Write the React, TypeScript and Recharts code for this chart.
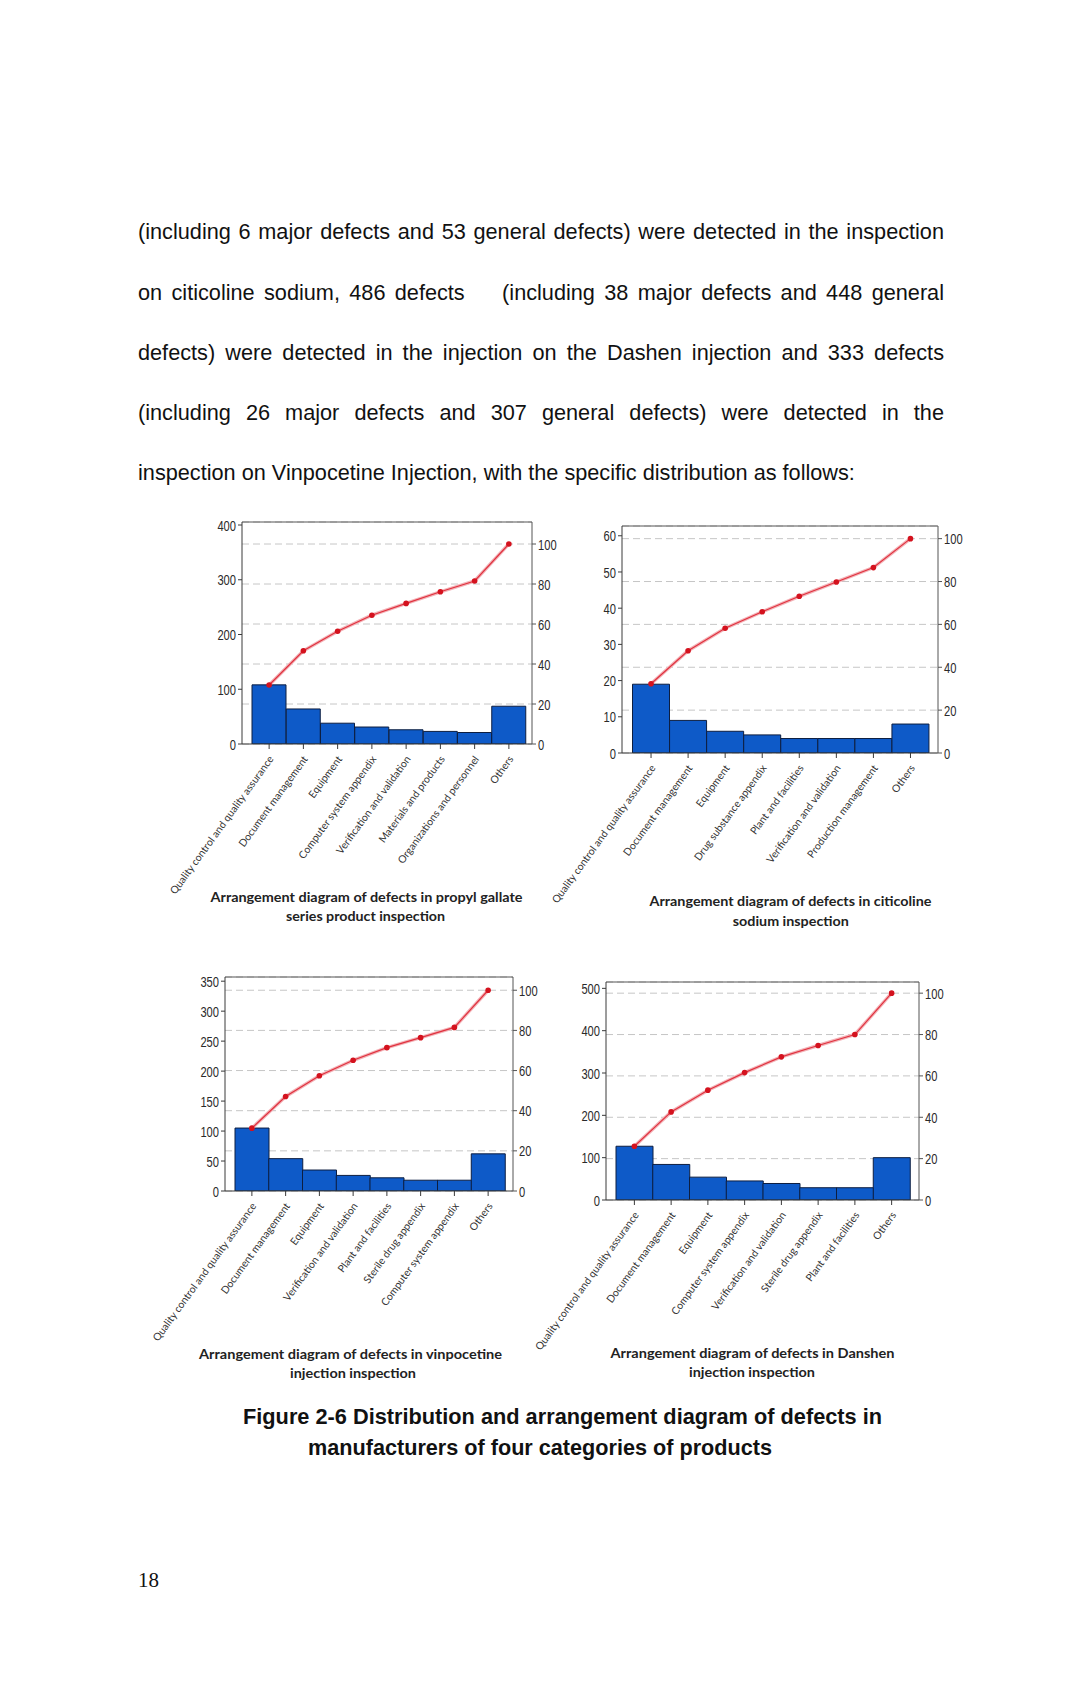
import { ComposedChart, Bar, Line, XAxis, YAxis, CartesianGrid, ReferenceLine } from 'recharts'

// --- data ---
const gallateCats = ['Quality control and quality assurance', 'Document management', 'Equipment', 'Computer system appendix', 'Verification and validation', 'Materials and products', 'Organizations and personnel', 'Others']
const gallateCounts = [108, 64, 38, 31, 26, 23, 21, 69]
const gallateCum = [29.5, 46.6, 56.4, 64.4, 70.3, 76.1, 81.5, 100]
const gallateTicks = [0, 100, 200, 300, 400]

const citicolineCats = ['Quality control and quality assurance', 'Document management', 'Equipment', 'Drug substance appendix', 'Plant and facilities', 'Verification and validation', 'Production management', 'Others']
const citicolineCounts = [19, 9, 6, 5, 4, 4, 4, 8]
const citicolineCum = [32.3, 47.7, 58.2, 65.9, 73.1, 79.8, 86.5, 100]
const citicolineTicks = [0, 10, 20, 30, 40, 50, 60]

const vinpoCats = ['Quality control and quality assurance', 'Document management', 'Equipment', 'Verification and validation', 'Plant and facilities', 'Sterile drug appendix', 'Computer system appendix', 'Others']
const vinpoCounts = [105, 54, 35, 26, 22, 18, 18, 62]
const vinpoCum = [31.3, 47.1, 57.4, 65.1, 71.4, 76.4, 81.5, 100]
const vinpoTicks = [0, 50, 100, 150, 200, 250, 300, 350]

const danshenCats = ['Quality control and quality assurance', 'Document management', 'Equipment', 'Computer system appendix', 'Verification and validation', 'Sterile drug appendix', 'Plant and facilities', 'Others']
const danshenCounts = [127, 84, 54, 45, 39, 29, 29, 100]
const danshenCum = [26, 42.6, 53.1, 61.6, 69.2, 74.7, 80, 100]
const danshenTicks = [0, 100, 200, 300, 400, 500]

const pctTicks = [0, 20, 40, 60, 80, 100]

const paragraph = [
  '(including 6 major defects and 53 general defects) were detected in the inspection',
  'on citicoline sodium, 486 defects\u00a0\u00a0\u00a0 (including 38 major defects and 448 general',
  'defects) were detected in the injection on the Dashen injection and 333 defects',
  '(including 26 major defects and 307 general defects) were detected in the',
  'inspection on Vinpocetine Injection, with the specific distribution as follows:',
]

const figureTitle = [
  'Figure 2-6 Distribution and arrangement diagram of defects in',
  'manufacturers of four categories of products',
]

const charts = [
  {
    cats: gallateCats, counts: gallateCounts, cum: gallateCum, ticks: gallateTicks,
    plot: { l: 242, r: 532, t: 522, b: 744 }, leftMax: 405.5, rightMax: 111, pad: [10, 6],
    caption: [
      { text: 'Arrangement diagram of defects in propyl gallate', cx: 366.5, cy: 897, len: 312 },
      { text: 'series product inspection', cx: 365.5, cy: 916.5, len: 159 },
    ],
  },
  {
    cats: citicolineCats, counts: citicolineCounts, cum: citicolineCum, ticks: citicolineTicks,
    plot: { l: 622, r: 938, t: 526, b: 753 }, leftMax: 62.7, rightMax: 105.9, pad: [10.5, 9],
    caption: [
      { text: 'Arrangement diagram of defects in citicoline', cx: 790.5, cy: 901.5, len: 282 },
      { text: 'sodium inspection', cx: 790.8, cy: 921, len: 116 },
    ],
  },
  {
    cats: vinpoCats, counts: vinpoCounts, cum: vinpoCum, ticks: vinpoTicks,
    plot: { l: 225, r: 513, t: 977, b: 1191 }, leftMax: 357, rightMax: 106.6, pad: [10, 8],
    caption: [
      { text: 'Arrangement diagram of defects in vinpocetine', cx: 350.5, cy: 1354, len: 303 },
      { text: 'injection inspection', cx: 353, cy: 1373, len: 126 },
    ],
  },
  {
    cats: danshenCats, counts: danshenCounts, cum: danshenCum, ticks: danshenTicks,
    plot: { l: 606, r: 919, t: 981.5, b: 1199.5 }, leftMax: 515, rightMax: 105.4, pad: [10, 9],
    caption: [
      { text: 'Arrangement diagram of defects in Danshen', cx: 752.5, cy: 1353, len: 284 },
      { text: 'injection inspection', cx: 752, cy: 1372.5, len: 126 },
    ],
  },
]

// eslint-disable-next-line @typescript-eslint/no-explicit-any
const NumTick = (props: any) => {
  const { x, y, payload, textAnchor } = props
  return (
    <g transform={`translate(${x},${y})`}>
      <text transform="scale(0.72,1)" textAnchor={textAnchor} dy="0.36em" fontSize={15.5}
        fontFamily="'Liberation Sans', Arial, sans-serif" fill="#2a2a2a">
        {payload.value}
      </text>
    </g>
  )
}

// eslint-disable-next-line @typescript-eslint/no-explicit-any
const CatTick = (props: any) => {
  const { x, y, payload } = props
  return (
    <g transform={`translate(${x + 2},${y + 6})`}>
      <text transform="rotate(-54)" textAnchor="end" dy="0.35em" fontSize={10.4}
        fontFamily="Lato, 'Open Sans', sans-serif" fill="#333">
        {payload.value}
      </text>
    </g>
  )
}

const AXW = 40
const ML = 130
const MR = 10
const MT = 10
const XH = 185

function Pareto({ cfg }: { cfg: (typeof charts)[number] }) {
  const data = cfg.cats.map((name, i) => ({ name, count: cfg.counts[i], cum: cfg.cum[i] }))
  const { l, r, t, b } = cfg.plot
  const width = r - l + AXW * 2 + ML + MR
  const height = b - t + MT + XH
  return (
    <div style={{ position: 'absolute', left: l - AXW - ML, top: t - MT }}>
      <ComposedChart width={width} height={height} data={data}
        margin={{ top: MT, right: MR, left: ML, bottom: 0 }} barCategoryGap={0} barGap={0}>
        <CartesianGrid yAxisId="right" vertical={false} stroke="#c6c6c6" strokeDasharray="7 4" />
        <XAxis dataKey="name" interval={0} padding={{ left: cfg.pad[0], right: cfg.pad[1] }}
          height={XH} tick={<CatTick />} tickSize={5} stroke="#3a3a3a" />
        <YAxis yAxisId="left" width={AXW} domain={[0, cfg.leftMax]} ticks={cfg.ticks} interval={0}
          tick={<NumTick />} tickSize={4} tickMargin={2} stroke="#3a3a3a" allowDataOverflow />
        <YAxis yAxisId="right" orientation="right" width={AXW} domain={[0, cfg.rightMax]}
          ticks={pctTicks} interval={0} tick={<NumTick />} tickSize={4} tickMargin={2}
          stroke="#555" allowDataOverflow />
        <ReferenceLine yAxisId="left" y={cfg.leftMax} stroke="#555" strokeWidth={1} />
        <Bar yAxisId="left" dataKey="count" fill="#0e5ac8" stroke="#0d1e40" strokeWidth={1}
          isAnimationActive={false} />
        <Line yAxisId="right" type="linear" dataKey="cum" stroke="#f3b3b8" strokeWidth={3.5}
          dot={false} activeDot={false} isAnimationActive={false} />
        <Line yAxisId="right" type="linear" dataKey="cum" stroke="#e0323f" strokeWidth={1.2}
          dot={{ r: 2.8, fill: '#d4121e', stroke: 'none' }} activeDot={false} isAnimationActive={false} />
      </ComposedChart>
    </div>
  )
}

const lineCenters = [232, 293, 353, 413, 473]

export default function App() {
  return (
    <div style={{ position: 'absolute', left: 0, top: 0, width: 1080, height: 1686, background: '#fff', overflow: 'hidden' }}>
      {paragraph.map((line, i) => (
        <div key={i} style={{
          position: 'absolute', left: 138, top: lineCenters[i] - 13, width: 806, height: 26,
          lineHeight: '26px', fontSize: 21.7, fontFamily: "'Liberation Sans', Arial, sans-serif",
          color: '#111', whiteSpace: 'nowrap',
          textAlign: 'justify', textAlignLast: i < paragraph.length - 1 ? 'justify' : 'left',
        }}>
          {line}
        </div>
      ))}

      {charts.map((cfg, i) => <Pareto key={i} cfg={cfg} />)}

      <svg width={1080} height={1686} style={{ position: 'absolute', left: 0, top: 0, pointerEvents: 'none' }}>
        {charts.map((cfg, i) =>
          cfg.caption.map((c, j) => (
            <text key={`${i}-${j}`} x={c.cx} y={c.cy + 4.5} textAnchor="middle" textLength={c.len}
              lengthAdjust="spacingAndGlyphs" fontSize={13} fontWeight="bold"
              fontFamily="Lato, 'Open Sans', sans-serif" fill="#222">
              {c.text}
            </text>
          ))
        )}
        <text x={243} y={1423.5} textLength={639} lengthAdjust="spacingAndGlyphs" fontSize={21.6}
          fontWeight="bold" fontFamily="'Liberation Sans', Arial, sans-serif" fill="#111">
          {figureTitle[0]}
        </text>
        <text x={308} y={1454.5} textLength={464} lengthAdjust="spacingAndGlyphs" fontSize={21.6}
          fontWeight="bold" fontFamily="'Liberation Sans', Arial, sans-serif" fill="#111">
          {figureTitle[1]}
        </text>
      </svg>

      <div style={{ position: 'absolute', left: 138, top: 1567, fontSize: 21, lineHeight: '26px', fontFamily: "'Liberation Serif', 'Times New Roman', serif", color: '#111' }}>
        18
      </div>
    </div>
  )
}
